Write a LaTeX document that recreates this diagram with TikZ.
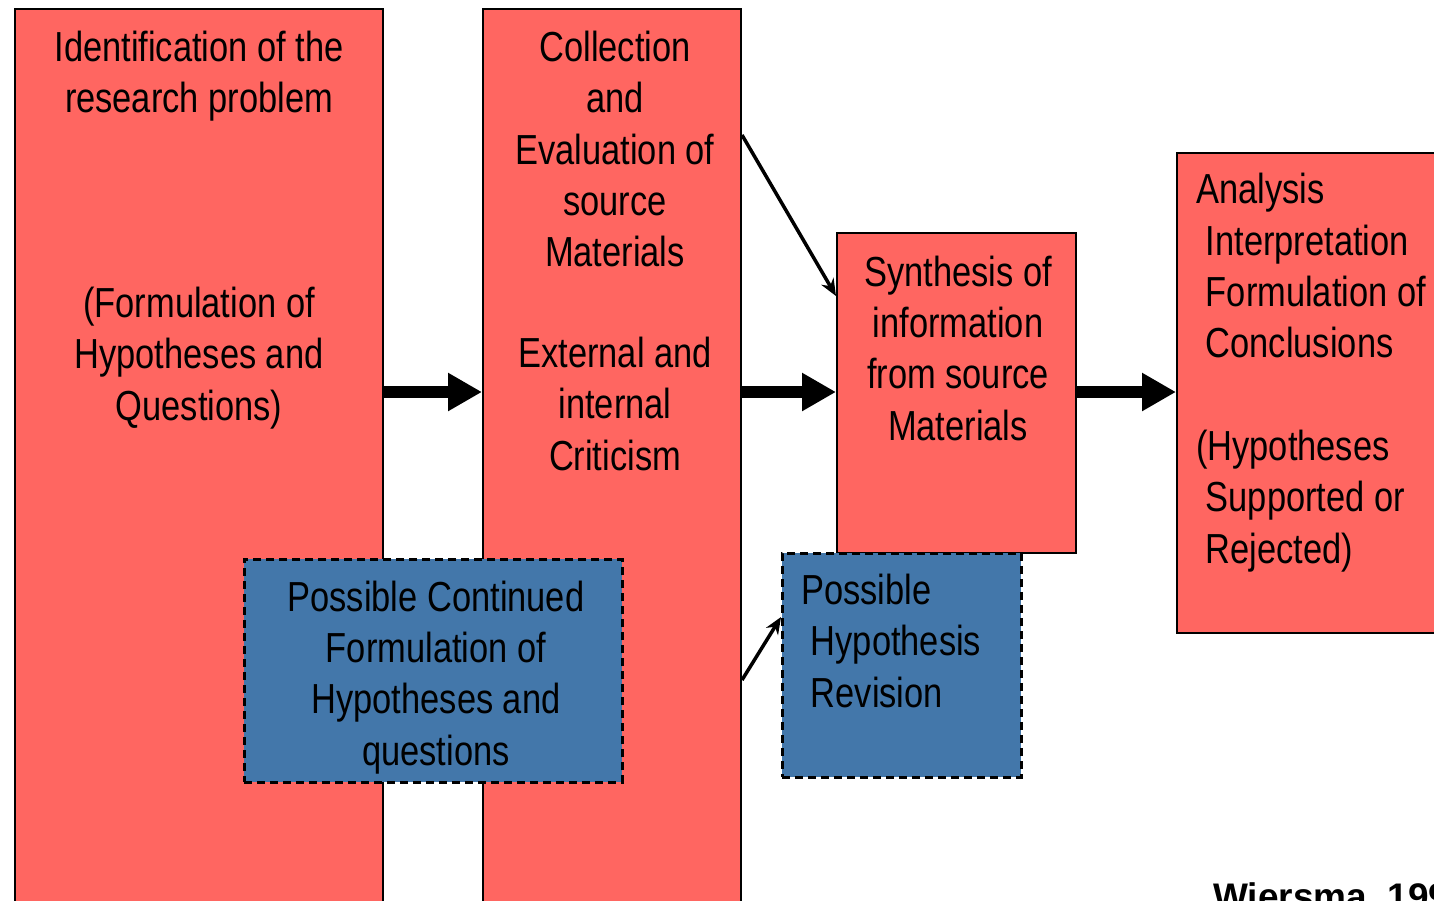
\documentclass[tikz,border=0pt]{standalone}
\usepackage{fontspec}
\setmainfont{Liberation Sans}[FakeStretch=0.82]
\newfontfamily\wfont{Liberation Sans}
\usetikzlibrary{arrows.meta,calc}
\definecolor{boxred}{HTML}{FF6661}
\definecolor{boxblue}{HTML}{4377AA}
\begin{document}
\begin{tikzpicture}[x=1pt,y=-1pt,
 redbox/.style={draw=black, line width=2pt, fill=boxred, inner sep=0pt, anchor=north west},
 bluebox/.style={draw=black, line width=2.5pt, dash pattern=on 8pt off 5pt, fill=boxblue, inner sep=0pt, anchor=north west},
 txt/.style={font=\fontsize{42}{51.2}\selectfont, inner sep=0pt},
 bigarrow/.style={line width=12pt, -{Triangle[length=34pt,width=36pt]}},
 thinarrow/.style={line width=3.5pt, -{Stealth[length=17pt,width=14pt]}}]
\useasboundingbox (0,0) rectangle (1434,900);
\fill[white] (0,0) rectangle (1434,900);
% red boxes
\node[redbox, minimum width=368pt, minimum height=1000pt] (b1) at (14,8) {};
\node[redbox, minimum width=258pt, minimum height=1000pt] (b2) at (482,8) {};
\node[redbox, minimum width=239pt, minimum height=320pt] (b3) at (836,232) {};
\node[redbox, minimum width=300pt, minimum height=480pt] (b4) at (1176,152) {};
% blue boxes
\node[bluebox, minimum width=378pt, minimum height=223pt] (b5) at (243,558) {};
\node[bluebox, minimum width=239pt, minimum height=224pt] (b6) at (781,552) {};
% texts
\node[txt, align=center, anchor=base] (t1) at (199,420) {Identification of the\\research problem\\[154pt](Formulation of\\Hypotheses and\\Questions)};
\node[txt, align=center, anchor=base] (t2) at (615,470) {Collection\\and\\Evaluation of\\source\\Materials\\[50pt]External and\\internal\\Criticism};
\node[txt, align=center, anchor=base] (t3) at (958,440) {Synthesis of\\information\\from source\\Materials};
\node[txt, align=left, anchor=base west] (t4) at (1196,563) {Analysis\\\hspace*{9.6pt}Interpretation\\\hspace*{9.6pt}Formulation of\\\hspace*{9.6pt}Conclusions\\[52pt](Hypotheses\\\hspace*{9.6pt}Supported or\\\hspace*{9.6pt}Rejected)};
\node[txt, align=center, anchor=base] (t5) at (436,765) {Possible Continued\\Formulation of\\Hypotheses and\\questions};
\node[txt, align=left, anchor=base west] (t6) at (801,707) {Possible\\\hspace*{9.6pt}Hypothesis\\\hspace*{9.6pt}Revision};
\node[font=\wfont\bfseries\fontsize{37}{44}\selectfont, inner sep=0pt, anchor=base west] (w) at (1213,909) {Wiersma, 1995};
% arrows
\draw[bigarrow] (b1.east |- 0,392) -- (b2.west |- 0,392);
\draw[bigarrow] (b2.east |- 0,392) -- (b3.west |- 0,392);
\draw[bigarrow] (b3.east |- 0,392) -- (b4.west |- 0,392);
\draw[thinarrow] ([yshift=-127pt]b2.north east) -- ([yshift=-64pt]b3.north west);
\draw[thinarrow] ([yshift=-672pt]b2.north east) -- ([yshift=-65pt]b6.north west);
\end{tikzpicture}
\end{document}
